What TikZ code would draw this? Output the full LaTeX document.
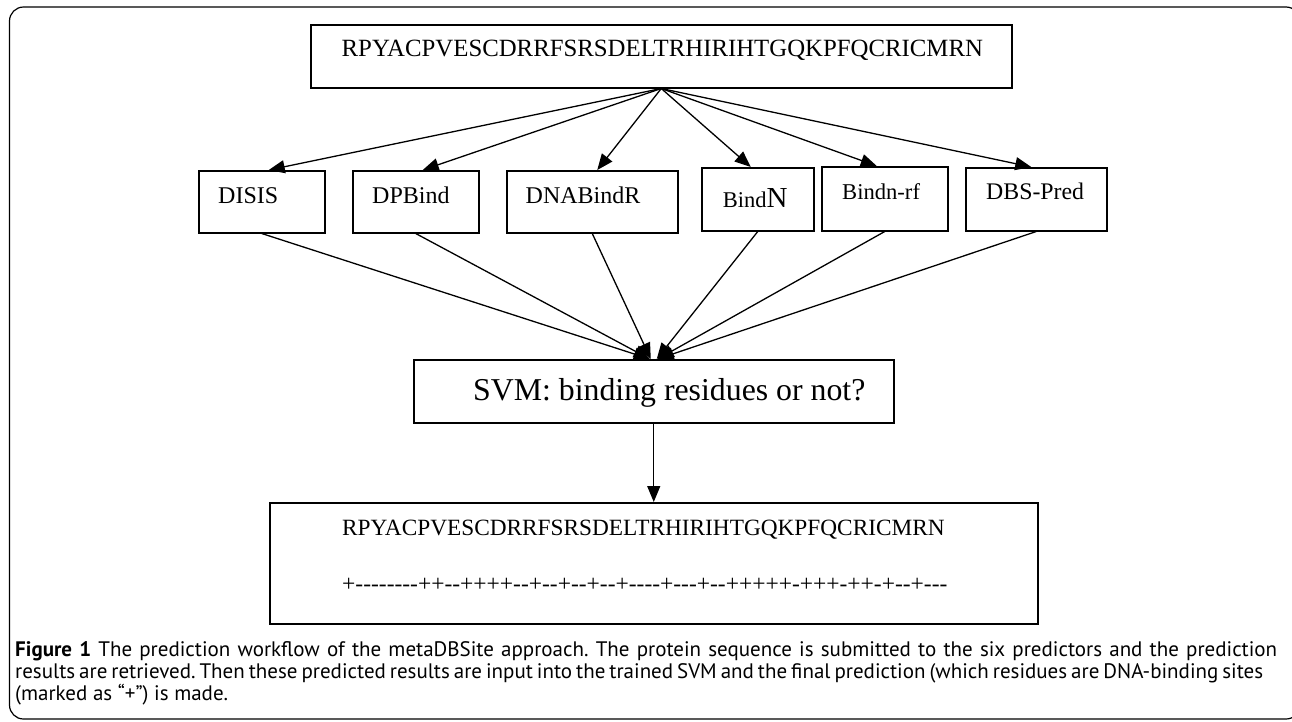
\documentclass[tikz,border=0pt]{standalone}
\usepackage{fontspec}
\setmainfont{Liberation Serif}[Ligatures=TeXOff]
\newfontfamily\capfont{PT Sans}
\usetikzlibrary{arrows.meta}
\tikzset{
  box/.style={draw, line width=1.5pt, inner sep=0pt, anchor=north west},
  lbl/.style={inner sep=0pt, anchor=base west},
  conn/.style={line width=1.3pt, -{Triangle[length=16pt,width=13pt]}},
  frame/.style={line width=1.2pt, rounded corners=14pt},
}
\frenchspacing
\newlength\capwa
\newlength\capwb
\newcommand{\capone}{\textbf{Figure 1} The prediction workflow of the metaDBSite approach. The protein sequence is submitted to the six predictors and the prediction}
\newcommand{\captwo}{results are retrieved. Then these predicted results are input into the trained SVM and the final prediction (which residues are DNA-binding sites}
\newcommand{\capthree}{(marked as “+”) is made.}
\newcommand{\capsp}{\spaceskip=0.26em plus 0.6em minus 0.12em\relax}
\begin{document}
\settowidth\capwa{\capfont\fontsize{20pt}{24pt}\selectfont\capone}%
\settowidth\capwb{\capfont\fontsize{20pt}{24pt}\selectfont\captwo}%
\pgfmathsetmacro\capsz{((1262/\capwa)*20+(1248/\capwb)*20)/2}%
\begin{tikzpicture}[x=1pt,y=-1pt]
\useasboundingbox (0,0) rectangle (1292,721);
\clip (0,0) rectangle (1292,721);
% outer frame
\draw[frame] (9.5,7) rectangle (1300,719);
% boxes
\node[box, minimum width=701pt, minimum height=63pt] (seq) at (310,24) {};
\node[box, minimum width=126pt, minimum height=62pt] (d1) at (198,170) {};
\node[box, minimum width=126pt, minimum height=62pt] (d2) at (352,170) {};
\node[box, minimum width=171pt, minimum height=62pt] (d3) at (506,170) {};
\node[box, minimum width=112pt, minimum height=63pt] (d4) at (701,167) {};
\node[box, minimum width=126pt, minimum height=64pt] (d5) at (821,166) {};
\node[box, minimum width=141pt, minimum height=63pt] (d6) at (965,167) {};
\node[box, minimum width=480pt, minimum height=63pt] (svm) at (413,359) {};
\node[box, minimum width=768pt, minimum height=121pt] (out) at (269,502) {};
% texts
\node[lbl, font=\fontsize{24.8pt}{26pt}\selectfont] (seqt) at (341.5,56.5) {RPYACPVESCDRRFSRSDELTRHIRIHTGQKPFQCRICMRN};
\node[lbl, font=\fontsize{24pt}{26pt}\selectfont] (t1) at (218,203) {DISIS};
\node[lbl, font=\fontsize{24pt}{26pt}\selectfont] (t2) at (372,203) {DPBind};
\node[lbl, font=\fontsize{24pt}{26pt}\selectfont] (t3) at (525.5,203) {DNABindR};
\node[lbl] (t4) at (722.6,207) {\fontsize{22.5pt}{24pt}\selectfont Bind\fontsize{29pt}{30pt}\selectfont N};
\node[lbl, font=\fontsize{22.6pt}{24pt}\selectfont] (t5) at (842,199) {Bindn-rf};
\node[lbl, font=\fontsize{23.8pt}{26pt}\selectfont] (t6) at (986,199) {DBS-Pred};
\node[lbl, font=\fontsize{31.8pt}{34pt}\selectfont] (svmt) at (473,400) {SVM: binding residues or not?};
\node[lbl, font=\fontsize{23.3pt}{25pt}\selectfont] (outs) at (342,535) {RPYACPVESCDRRFSRSDELTRHIRIHTGQKPFQCRICMRN};
\node[lbl, font=\fontsize{23.5pt}{25pt}\selectfont] (outp) at (342,591) {+--------++--++++--+--+--+--+----+---+--+++++-+++-++-+--+---};
% connectors
\draw[conn] (seq.south) -- ([xshift=7pt]d1.north);
\draw[conn] (seq.south) -- ([xshift=7pt]d2.north);
\draw[conn] (seq.south) -- ([xshift=5pt]d3.north);
\draw[conn] (seq.south) -- ([xshift=-7pt]d4.north);
\draw[conn] (seq.south) -- ([xshift=-8pt]d5.north);
\draw[conn] (seq.south) -- ([xshift=-5pt]d6.north);
\draw[conn] (d1.south) -- ([xshift=-4pt]svm.north);
\draw[conn] (d2.south) -- ([xshift=-4pt]svm.north);
\draw[conn] (d3.south) -- ([xshift=-3pt]svm.north);
\draw[conn] (d4.south) -- ([xshift=3pt]svm.north);
\draw[conn] (d5.south) -- ([xshift=4pt]svm.north);
\draw[conn] (d6.south) -- ([xshift=4pt]svm.north);
\draw[conn] (svm.south) -- (out.north);
% caption
\node[lbl] (cap1) at (15,656) {\capfont\fontsize{\capsz pt}{\capsz pt}\selectfont\hbox to 1262pt{\capsp\capone}};
\node[lbl] (cap2) at (15,678) {\capfont\fontsize{\capsz pt}{\capsz pt}\selectfont\hbox to 1248pt{\capsp\captwo}};
\node[lbl] (cap3) at (15,700) {\capfont\fontsize{\capsz pt}{\capsz pt}\selectfont\capthree};
\end{tikzpicture}
\end{document}
